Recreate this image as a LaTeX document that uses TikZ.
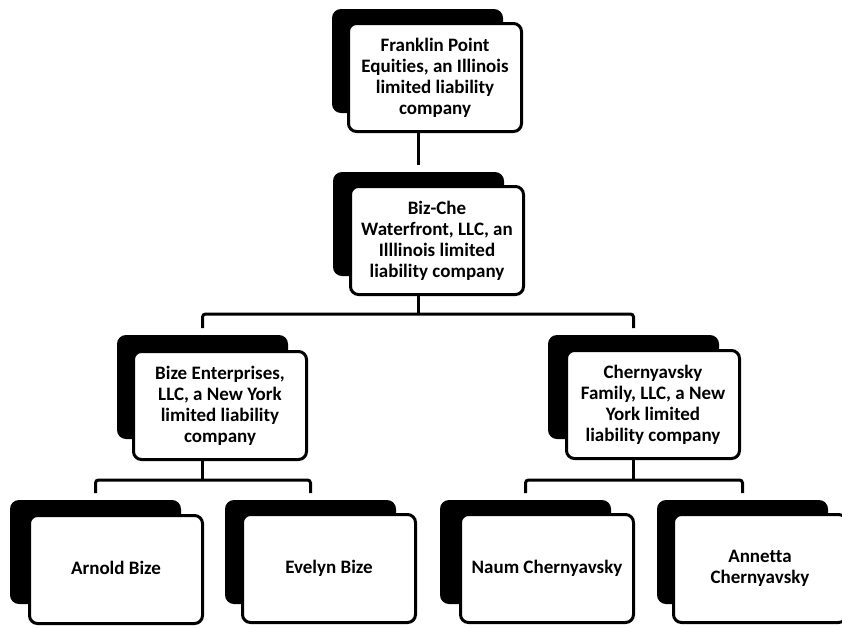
\documentclass[tikz,border=0pt]{standalone}
\usepackage{fontspec}
\setmainfont{Carlito}[Ligatures=NoCommon]
\begin{document}
\begin{tikzpicture}[x=1pt,y=-1pt,
  shadowbox/.style={fill=black, rounded corners=9pt, minimum width=171pt, minimum height=104pt,
    anchor=north west, inner sep=0pt, outer sep=0pt},
  whitebox/.style={draw=black, line width=3pt, fill=white, rounded corners=8pt,
    minimum width=173pt, minimum height=108pt, anchor=north west, inner sep=0pt, outer sep=0pt,
    align=center, font=\bfseries\fontsize{19}{21}\selectfont, xshift=1.5pt, yshift=-1.5pt},
  conn/.style={draw=black, line width=3pt, rounded corners=3pt}]
\useasboundingbox (0,0) rectangle (842,627);

% level 1
\node[shadowbox] (s1) at (332,9) {};
\node[whitebox] (b1) at (347,22) {Franklin Point\\Equities, an Illinois\\limited liability\\company};
% level 2
\node[shadowbox] (s2) at (333,172) {};
\node[whitebox] (b2) at (349,185) {Biz-Che\\Waterfront, LLC, an\\Illlinois limited\\liability company};
% level 3
\node[shadowbox] (s3) at (117,335) {};
\node[whitebox] (b3) at (132,350) {Bize Enterprises,\\LLC, a New York\\limited liability\\company};
\node[shadowbox] (s4) at (548,335) {};
\node[whitebox] (b4) at (565,349) {Chernyavsky\\Family, LLC, a New\\York limited\\liability company};
% level 4
\node[shadowbox] (s5) at (10,500) {};
\node[whitebox] (b5) at (28,514) {Arnold Bize\vphantom{y}};
\node[shadowbox] (s6) at (225,500) {};
\node[whitebox] (b6) at (241,513) {Evelyn Bize};
\node[shadowbox] (s7) at (440,500) {};
\node[whitebox] (b7) at (459,513) {Naum Chernyavsky};
\node[shadowbox] (s8) at (657,500) {};
\node[whitebox] (b8) at (672,513) {Annetta\\Chernyavsky};

% connectors
\draw[conn] (b1.south -| s2.north) -- ([yshift=7pt]s2.north);

\path (b2.south -| s2.north) ++(0,19.5) coordinate (j1);
\draw[conn] (b2.south -| s2.north) -- (j1);
\draw[conn] ([yshift=7pt]s3.north) |- (j1) -| ([yshift=7pt]s4.north);

\path (b3.south -| s3.north) ++(0,20.5) coordinate (j2);
\draw[conn] (b3.south -| s3.north) -- (j2);
\draw[conn] ([yshift=7pt]s5.north) |- (j2) -| ([yshift=7pt]s6.north);

\path (b4.south -| s4.north) ++(0,21.5) coordinate (j3);
\draw[conn] (b4.south -| s4.north) -- (j3);
\draw[conn] ([yshift=7pt]s7.north) |- (j3) -| ([yshift=7pt]s8.north);
\end{tikzpicture}
\end{document}
